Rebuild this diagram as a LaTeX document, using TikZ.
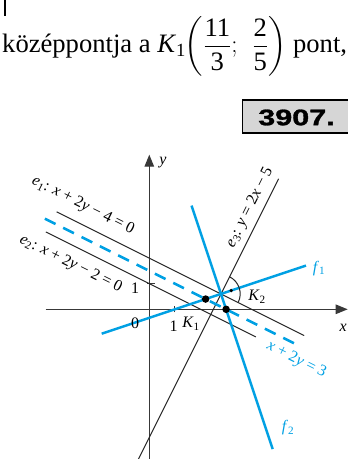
\documentclass[tikz,border=0pt]{standalone}
\usepackage{amsmath}
\usepackage{graphicx}
\usepackage{fontspec}
\setmainfont{Liberation Serif}
\newfontfamily\boxfont[BoldFeatures={FakeBold=1.2}]{Liberation Sans}
\usetikzlibrary{arrows.meta,calc}
\definecolor{cy}{RGB}{0,160,227}
\definecolor{axc}{gray}{0.22}
\definecolor{boxgray}{gray}{0.84}
\begin{document}
\begin{tikzpicture}[x=1pt,y=1pt,
  lbl/.style={font=\fontsize{16}{18}\selectfont, inner sep=0pt},
  blk/.style={line width=1pt, black!85},
  blu/.style={line width=2.5pt, cy},
  axisline/.style={line width=1.2pt, axc},
  bigdot/.style={circle, fill=black, inner sep=0pt, minimum size=7.5pt},
  smalldot/.style={circle, fill=black, inner sep=0pt, minimum size=3.6pt}]
\useasboundingbox (0,0) rectangle (348,459);
\begin{scope}
\clip (0,0) rectangle (348,459);
% fragment of previous content
\coordinate (barA) at (5,459);
\coordinate (barB) at (5,443);
\draw[line width=1.4pt] (barA) -- (barB);
% top text
\node[anchor=base west, inner sep=0pt, font=\fontsize{26.6}{31}\selectfont] (toptext) at (2,406)
  {középpontja a \textit{K}\textsubscript{1}\kern-1pt$\left(\dfrac{\text{11}}{\text{3}};\ \,\dfrac{\text{2}}{\text{5}}\right)$ pont,};
% number box
\node[draw, line width=1.1pt, fill=boxgray, minimum width=110pt, minimum height=33pt, inner sep=0pt, anchor=west] (numbox) at (242,342.5) {};
\node[inner sep=0pt, font=\boxfont\bfseries\fontsize{22.5}{24}\selectfont] (num) at (296.5,341.5) {\scalebox{1.36}[1]{3907.}};

\begin{scope}[shift={(149.3,149.7)}, x=25.6pt, y=25.6pt]
  % axes
  \coordinate (xa0) at (-4.05,0);
  \coordinate (xa1) at (7.75,0);
  \coordinate (ya0) at (0,-6.3);
  \coordinate (ya1) at (0,6.04);
  \draw[axisline, -{Triangle[length=12pt,width=9.5pt]}] (xa0) -- (xa1);
  \draw[axisline, -{Triangle[length=12pt,width=9.5pt]}] (ya0) -- (ya1);
  \coordinate (tx0) at (1,-0.12);
  \coordinate (tx1) at (1,0.12);
  \coordinate (ty0) at (-0.08,1);
  \coordinate (ty1) at (0.22,1);
  \draw[axisline, line width=1pt] (tx0) -- (tx1);
  \draw[axisline, line width=1pt] (ty0) -- (ty1);
  % black lines
  \coordinate (e1a) at (-3.62,3.81);
  \coordinate (e1b) at (6.05,-1.025);
  \coordinate (e2a) at (-4.04,3.02);
  \coordinate (e2b) at (4.16,-1.08);
  \coordinate (e3a) at (-0.6,-6.2);
  \coordinate (e3b) at (5.05,5.1);
  \draw[blk] (e1a) -- (e1b);
  \draw[blk] (e2a) -- (e2b);
  \draw[blk] (e3a) -- (e3b);
  % blue lines
  \coordinate (da) at (-4.08,3.54);
  \coordinate (db) at (5.84,-1.42);
  \draw[blu, dash pattern=on 12pt off 8.5pt] (da) -- (db);
  \coordinate (f1a) at (-1.86,-0.953);
  \coordinate (f1b) at (6.12,1.707);
  \coordinate (f2a) at (1.65,4.05);
  \coordinate (f2b) at (4.82,-5.46);
  \draw[blu] (f1a) -- (f1b);
  \draw[blu] (f2a) -- (f2b);
  % points
  \coordinate (K2) at (2.8,0.6);
  \node[bigdot] (P1) at (2.2,0.4) {};
  \node[bigdot] (P2) at (3,0) {};
  \draw[blk] ($(K2)+(63.43:0.75)$) arc[start angle=63.43, end angle=-26.57, radius=0.75];
  \node[smalldot] (rdot) at ($(K2)+(18.43:0.42)$) {};
\end{scope}

% labels
\node[lbl, rotate=-26.57] (le1) at (83,253.5) {\textit{e}\textsubscript{1}: \textit{x} + 2\textit{y} − 4 = 0};
\node[lbl, rotate=-26.57] (le2) at (70.8,195) {\textit{e}\textsubscript{2}: \textit{x} + 2\textit{y} − 2 = 0};
\node[lbl, rotate=63.43] (le3) at (250,251.5) {\textit{e}\textsubscript{3}: \textit{y} = 2\textit{x} − 5};
\node[lbl, rotate=-26.57, text=cy] (ld) at (296.5,99) {\textit{x} + 2\textit{y} = 3};
\node[lbl, text=cy] (lf1) at (319,190.7) {\textit{f}\textsubscript{1}};
\node[lbl, text=cy] (lf2) at (288,31) {\textit{f}\textsubscript{2}};
\node[lbl] (lK1) at (191,135) {\textit{K}\textsubscript{1}};
\node[lbl] (lK2) at (257,162.3) {\textit{K}\textsubscript{2}};
\node[lbl] (l0) at (135,135.7) {0};
\node[lbl] (lx1) at (173.5,133) {1};
\node[lbl] (ly1) at (135,170.7) {1};
\node[lbl] (ly) at (163,296) {\textit{y}};
\node[lbl] (lx) at (343.3,130.7) {\textit{x}};
\end{scope}
\end{tikzpicture}
\end{document}
